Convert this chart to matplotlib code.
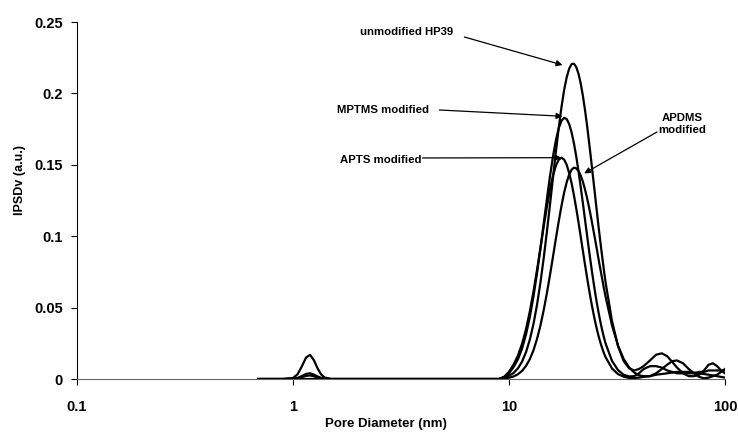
'''
Pore size distribution (IPSDv) of HP39 silica, unmodified and silane modified
'''
import matplotlib
matplotlib.use('Agg')
import matplotlib.pyplot as plt

plt.rcParams['font.family'] = ['Liberation Sans', 'DejaVu Sans']
plt.rcParams['font.weight'] = 'bold'

# pore diameter grid (nm)
diameter = [0.69, 0.8, 0.9, 1.0, 1.05, 1.1, 1.15, 1.2, 1.25, 1.3, 1.35, 1.4, 1.5, 1.7, 2, 3, 5, 8,
            9, 9.5, 10, 10.5, 11, 11.5, 12, 12.5, 13, 13.5,
            14, 14.5, 15, 15.5, 16, 16.5, 17, 17.5, 18, 18.5,
            19, 19.5, 20, 20.5, 21, 21.5, 22, 22.5, 23, 23.5,
            24, 24.5, 25, 25.5, 26, 26.5, 27, 27.5, 28,
            30, 32, 34, 36, 38, 40, 42, 45, 48, 51, 54, 57, 60,
            64, 68, 72, 76, 80, 84, 88, 92, 96, 100]

unmodified = [0, 0, 0, 0.0007, 0.0033, 0.0089, 0.0151, 0.0169, 0.0132, 0.0075, 0.0032, 0.0011, 0, 0, 0, 0, 0, 0,
              0, 0.0011, 0.0023, 0.0042, 0.0074, 0.0122, 0.0189, 0.0277, 0.0388, 0.0523,
              0.0679, 0.0852, 0.1037, 0.1226, 0.1414, 0.1594, 0.1758, 0.1902, 0.2022, 0.2112,
              0.2173, 0.2205, 0.2208, 0.2184, 0.2137, 0.2068, 0.1982, 0.1883, 0.1775, 0.1657,
              0.1538, 0.1416, 0.1297, 0.1179, 0.1066, 0.096, 0.086, 0.0766, 0.0679,
              0.0406, 0.023, 0.0125, 0.0075, 0.006, 0.007, 0.009, 0.013, 0.017, 0.018, 0.016, 0.012, 0.008,
              0.004, 0.002, 0.002, 0.003, 0.006, 0.010, 0.011, 0.009, 0.006, 0.004]

mptms = [0, 0, 0, 0.0002, 0.0008, 0.0021, 0.0036, 0.004, 0.0031, 0.0018, 0.0008, 0.0003, 0, 0, 0, 0, 0, 0,
         0, 0.0015, 0.0040, 0.0083, 0.0137, 0.0213, 0.0313, 0.0437, 0.0582, 0.0745,
         0.0918, 0.1094, 0.1265, 0.1423, 0.1561, 0.1673, 0.1757, 0.1808, 0.1829, 0.1821,
         0.1786, 0.1727, 0.1649, 0.1557, 0.1453, 0.1343, 0.123, 0.1116, 0.1005, 0.0898,
         0.0797, 0.0702, 0.0616, 0.0536, 0.0465, 0.0401, 0.0344, 0.0294, 0.025,
         0.0127, 0.0062, 0.0029, 0.0018, 0.002, 0.004, 0.007, 0.009, 0.009, 0.008, 0.006, 0.005, 0.004,
         0.004, 0.004, 0.004, 0.005, 0.005, 0.006, 0.006, 0.006, 0.006, 0.006]

apts = [0, 0, 0, 0.0001, 0.0005, 0.0013, 0.0022, 0.0025, 0.0019, 0.0011, 0.0005, 0.0002, 0, 0, 0, 0, 0, 0,
        0, 0.0015, 0.0050, 0.0101, 0.0163, 0.0246, 0.0351, 0.0475, 0.0616, 0.0767,
        0.0921, 0.1072, 0.1209, 0.1329, 0.1426, 0.1495, 0.1536, 0.155, 0.1537, 0.1501,
        0.1443, 0.1371, 0.1286, 0.1193, 0.1095, 0.0995, 0.0897, 0.0801, 0.071, 0.0625,
        0.0546, 0.0475, 0.041, 0.0352, 0.0301, 0.0256, 0.0217, 0.0183, 0.0154,
        0.0074, 0.0034, 0.0016, 0.0008, 0.0006, 0.001, 0.0015, 0.002, 0.003, 0.0035, 0.004, 0.0045, 0.005,
        0.005, 0.005, 0.0045, 0.004, 0.0035, 0.003, 0.0025, 0.002, 0.0015, 0.001]

apdms = [0, 0, 0, 0, 0, 0, 0, 0, 0, 0, 0, 0, 0, 0, 0, 0, 0, 0,
         0, 0.0004, 0.0009, 0.0018, 0.0033, 0.0057, 0.0092, 0.014, 0.0203, 0.0283,
         0.0377, 0.0486, 0.0605, 0.0731, 0.0859, 0.0985, 0.1104, 0.1211, 0.1304, 0.1377,
         0.1432, 0.1466, 0.148, 0.1475, 0.1456, 0.1424, 0.1381, 0.1327, 0.1267, 0.1201,
         0.1131, 0.1058, 0.0985, 0.0912, 0.0839, 0.077, 0.0703, 0.0639, 0.0578,
         0.0376, 0.0233, 0.0139, 0.0081, 0.0046, 0.0026, 0.002, 0.002, 0.004, 0.007, 0.010, 0.0125, 0.013,
         0.011, 0.007, 0.004, 0.0015, 0.0005, 0.001, 0.002, 0.003, 0.005, 0.007]

y_ticks = [0, 0.05, 0.1, 0.15, 0.2, 0.25]
y_tick_labels = ['0', '0.05', '0.1', '0.15', '0.2', '0.25']
x_ticks = [0.1, 1, 10, 100]
x_tick_labels = ['0.1', '1', '10', '100']

for s in (unmodified, mptms, apts, apdms):
	assert len(s) == len(diameter), len(s)

fig = plt.figure(figsize=(7.38, 4.36), dpi=100)
ax = fig.add_axes([0.1043, 0.1307, 0.878, 0.8188])

for series in (unmodified, mptms, apts, apdms):
	ax.plot(diameter, series, color='black', lw=1.6, zorder=3, solid_joinstyle='round')

ax.set_xscale('log')
ax.set_xlim(0.1, 100)
ax.set_ylim(0, 0.25)
ax.set_xticks(x_ticks)
ax.set_xticklabels(x_tick_labels)
ax.set_yticks(y_ticks)
ax.set_yticklabels(y_tick_labels)
ax.minorticks_off()
ax.tick_params(axis='both', direction='out', length=4, width=0.8, labelsize=10.5, color='black')
ax.tick_params(axis='x', pad=11)
ax.tick_params(axis='y', pad=6)

for side in ('top', 'right'):
	ax.spines[side].set_visible(False)
ax.spines['left'].set_color('black')
ax.spines['bottom'].set_color('#666666')
ax.spines['left'].set_linewidth(0.8)
ax.spines['bottom'].set_linewidth(0.8)

ax.set_xlabel('Pore Diameter (nm)', fontsize=9.5, fontweight='bold')
ax.set_ylabel('IPSDv (a.u.)', fontsize=9, fontweight='bold')
ax.xaxis.set_label_coords(0.477, -0.108)
ax.yaxis.set_label_coords(-0.079, 0.557)

arrow = dict(arrowstyle='-|>', color='black', lw=0.9, mutation_scale=9, shrinkA=0, shrinkB=0)
ann = dict(fontsize=8.2, fontweight='bold', ha='center', va='center')

ax.text(3.36, 0.243, 'unmodified HP39', **ann)
ax.annotate('', xy=(17.7, 0.2199), xytext=(6.22, 0.2395), arrowprops=arrow)

ax.text(2.62, 0.1884, 'MPTMS modified', **ann)
ax.annotate('', xy=(17.7, 0.184), xytext=(4.76, 0.1884), arrowprops=arrow)

ax.text(2.54, 0.1534, 'APTS modified', **ann)
ax.annotate('', xy=(17.5, 0.155), xytext=(3.98, 0.1548), arrowprops=arrow)

ax.text(63.4, 0.1786, 'APDMS\nmodified', linespacing=1.35, **ann)
ax.annotate('', xy=(22.3, 0.144), xytext=(48.5, 0.173), arrowprops=arrow)

plt.savefig('out.png', dpi=100)
